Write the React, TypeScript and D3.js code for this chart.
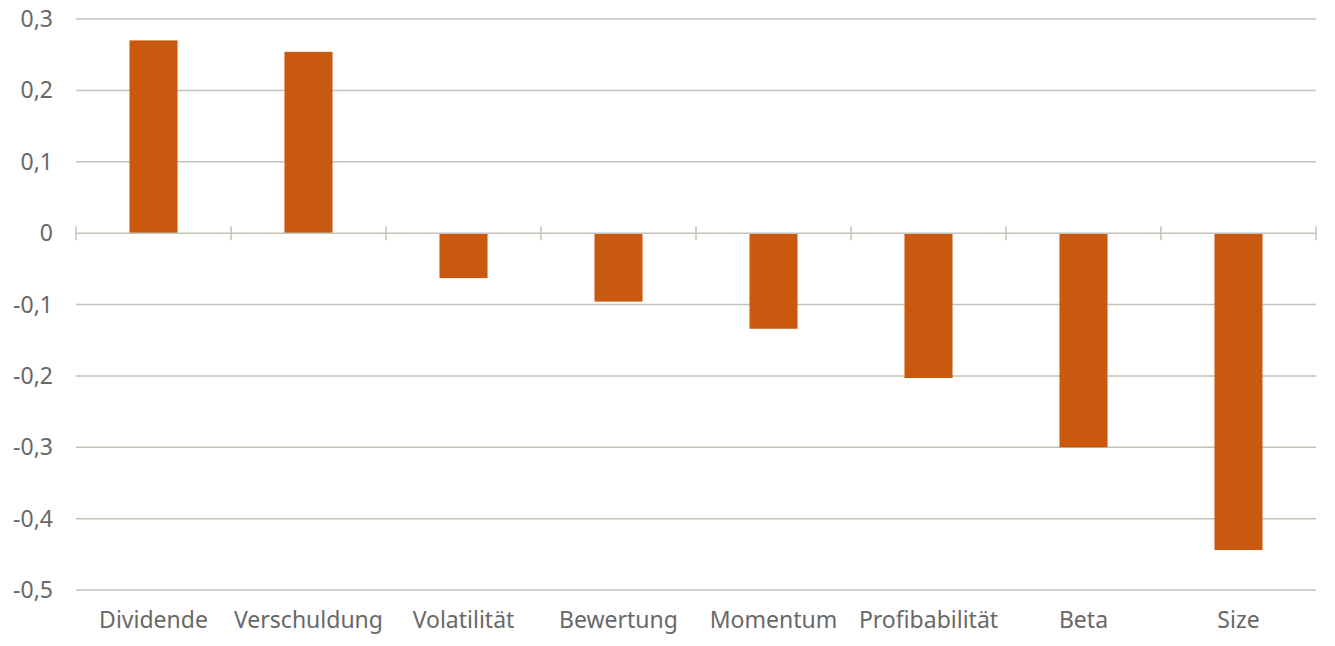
import { useEffect, useRef } from 'react';
import * as d3 from 'd3';

const categories = ['Dividende', 'Verschuldung', 'Volatilität', 'Bewertung', 'Momentum', 'Profibabilität', 'Beta', 'Size'];
const values = [0.270, 0.254, -0.063, -0.096, -0.134, -0.203, -0.300, -0.444];
const yTicks = [0.3, 0.2, 0.1, 0, -0.1, -0.2, -0.3, -0.4, -0.5];

const width = 1335;
const height = 646;
const margin = { left: 76, right: 19, top: 19, bottom: 56 };

const barColor = '#c8590e';
const gridColor = '#c6c1b6';
const textColor = '#686868';
const font = '"Noto Sans", "Open Sans", sans-serif';

function BarChart() {
  const svgRef = useRef<SVGSVGElement>(null);

  useEffect(() => {
    if (svgRef.current === null) return;
    const graphWidth = width - margin.left - margin.right;
    const graphHeight = height - margin.top - margin.bottom;

    const y = d3.scaleLinear().domain([-0.5, 0.3]).range([graphHeight, 0]);
    const x = d3
      .scaleBand()
      .domain(categories)
      .range([0, graphWidth])
      .paddingInner(0.69)
      .paddingOuter(0.345);
    const band = graphWidth / categories.length;

    const svg = d3.select(svgRef.current);
    svg.selectAll('*').remove();

    const body = svg.append('g').attr('transform', `translate(${margin.left}, ${margin.top})`);

    // gridlines (zero is drawn later as the axis)
    body
      .selectAll('line.grid')
      .data(yTicks.filter((t) => t !== 0))
      .enter()
      .append('line')
      .attr('class', 'grid')
      .attr('x1', 0)
      .attr('x2', graphWidth)
      .attr('y1', (d) => y(d))
      .attr('y2', (d) => y(d))
      .attr('stroke', gridColor)
      .attr('stroke-width', 1.5);

    // y labels
    body
      .selectAll('text.ylab')
      .data(yTicks)
      .enter()
      .append('text')
      .attr('class', 'ylab')
      .attr('x', -23)
      .attr('y', (d) => y(d))
      .attr('dy', '0.35em')
      .attr('text-anchor', 'end')
      .attr('fill', textColor)
      .style('font-family', font)
      .style('font-size', '23px')
      .text((d) => (d === 0 ? '0' : d3.format('.1f')(d).replace('.', ',').replace('−', '-')));

    // bars
    body
      .selectAll('rect')
      .data(values)
      .enter()
      .append('rect')
      .attr('x', (_, i) => x(categories[i]) || 0)
      .attr('width', x.bandwidth())
      .attr('y', (d) => y(Math.max(0, d)))
      .attr('height', (d) => Math.abs(y(d) - y(0)))
      .attr('fill', barColor);

    // zero axis with ticks
    body
      .append('line')
      .attr('x1', 0)
      .attr('x2', graphWidth)
      .attr('y1', y(0))
      .attr('y2', y(0))
      .attr('stroke', gridColor)
      .attr('stroke-width', 1.5);

    body
      .selectAll('line.tick')
      .data(d3.range(categories.length + 1))
      .enter()
      .append('line')
      .attr('class', 'tick')
      .attr('x1', (i) => i * band)
      .attr('x2', (i) => i * band)
      .attr('y1', y(0) - 7)
      .attr('y2', y(0) + 7)
      .attr('stroke', gridColor)
      .attr('stroke-width', 1.5);

    // category labels
    body
      .selectAll('text.xlab')
      .data(categories)
      .enter()
      .append('text')
      .attr('class', 'xlab')
      .attr('x', (d) => (x(d) || 0) + x.bandwidth() / 2)
      .attr('y', graphHeight + 37.5)
      .attr('text-anchor', 'middle')
      .attr('fill', textColor)
      .style('font-family', font)
      .style('font-size', '23px')
      .text((d) => d);
  }, []);

  return <svg ref={svgRef} width={width} height={height} style={{ display: 'block' }} />;
}

export default function App() {
  return (
    <div style={{ margin: -8 }}>
      <BarChart />
    </div>
  );
}
